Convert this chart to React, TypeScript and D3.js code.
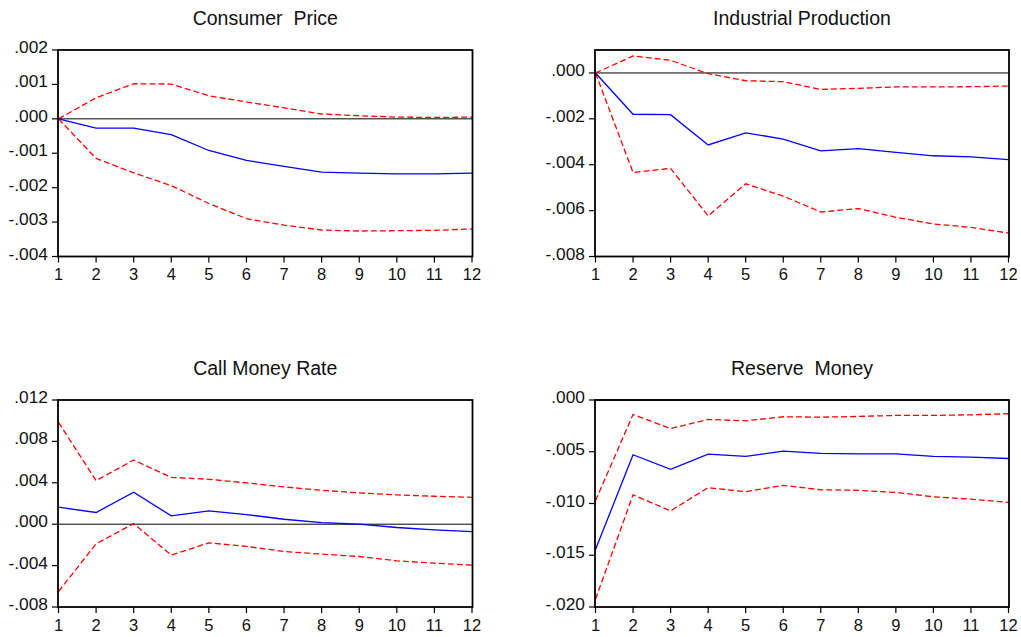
import React from "react";
import * as d3 from "d3";

// Impulse responses over a 12-period horizon with ±2 S.E. bands
const periods = [1, 2, 3, 4, 5, 6, 7, 8, 9, 10, 11, 12];

const cpiResponse = [0, -0.00027, -0.00027, -0.00046, -0.00092, -0.00121, -0.00138, -0.00155, -0.00158, -0.0016, -0.0016, -0.00158];
const cpiUpper = [0, 0.00061, 0.00102, 0.00101, 0.00067, 0.00049, 0.00032, 0.00014, 0.00009, 0.00005, 0.00004, 0.00005];
const cpiLower = [0, -0.00115, -0.00157, -0.00194, -0.00246, -0.0029, -0.00309, -0.00323, -0.00326, -0.00325, -0.00324, -0.0032];
const cpiTicks = [0.002, 0.001, 0.0, -0.001, -0.002, -0.003, -0.004];
const cpiTickLabels = [".002", ".001", ".000", "-.001", "-.002", "-.003", "-.004"];

const ipResponse = [0, -0.0018, -0.00182, -0.00314, -0.00261, -0.00288, -0.0034, -0.0033, -0.00346, -0.00361, -0.00366, -0.00378];
const ipUpper = [0, 0.00074, 0.00055, -0.00003, -0.00034, -0.00038, -0.00072, -0.00067, -0.00061, -0.00061, -0.0006, -0.00057];
const ipLower = [0, -0.00434, -0.00416, -0.00623, -0.00483, -0.00537, -0.00606, -0.00591, -0.00629, -0.00658, -0.00673, -0.00698];
const ipTicks = [0.0, -0.002, -0.004, -0.006, -0.008];
const ipTickLabels = [".000", "-.002", "-.004", "-.006", "-.008"];

const cmrResponse = [0.00164, 0.00113, 0.00309, 0.0008, 0.00129, 0.00093, 0.00048, 0.00016, 0.0, -0.00032, -0.00055, -0.00071];
const cmrUpper = [0.00984, 0.00421, 0.0062, 0.00453, 0.00434, 0.00399, 0.0036, 0.00328, 0.00302, 0.00283, 0.0027, 0.0026];
const cmrLower = [-0.0065, -0.0019, 0.00006, -0.00299, -0.0018, -0.00215, -0.00264, -0.00289, -0.00312, -0.00354, -0.00376, -0.00395];
const cmrTicks = [0.012, 0.008, 0.004, 0.0, -0.004, -0.008];
const cmrTickLabels = [".012", ".008", ".004", ".000", "-.004", "-.008"];

const rmResponse = [-0.01445, -0.00529, -0.00669, -0.00523, -0.00545, -0.00494, -0.00516, -0.0052, -0.0052, -0.00545, -0.00552, -0.00565];
const rmUpper = [-0.00974, -0.0014, -0.00276, -0.00188, -0.00201, -0.00162, -0.00166, -0.00159, -0.00149, -0.00149, -0.00143, -0.00133];
const rmLower = [-0.01925, -0.00916, -0.01071, -0.00847, -0.00886, -0.00825, -0.00867, -0.00873, -0.00893, -0.00935, -0.00958, -0.0099];
const rmTicks = [0.0, -0.005, -0.01, -0.015, -0.02];
const rmTickLabels = [".000", "-.005", "-.010", "-.015", "-.020"];

const titles = ["Consumer  Price", "Industrial Production", "Call Money Rate", "Reserve  Money"];

type PanelSpec = {
  title: string;
  response: number[];
  upper: number[];
  lower: number[];
  domain: [number, number];
  ticks: number[];
  tickLabels: string[];
  box: { left: number; top: number; right: number; bottom: number };
};

const panels: PanelSpec[] = [
  { title: titles[0], response: cpiResponse, upper: cpiUpper, lower: cpiLower, domain: [-0.004, 0.002], ticks: cpiTicks, tickLabels: cpiTickLabels, box: { left: 58, top: 50, right: 472.5, bottom: 256.5 } },
  { title: titles[1], response: ipResponse, upper: ipUpper, lower: ipLower, domain: [-0.008, 0.001], ticks: ipTicks, tickLabels: ipTickLabels, box: { left: 595, top: 50, right: 1009, bottom: 256.5 } },
  { title: titles[2], response: cmrResponse, upper: cmrUpper, lower: cmrLower, domain: [-0.008, 0.012], ticks: cmrTicks, tickLabels: cmrTickLabels, box: { left: 58, top: 400, right: 472.5, bottom: 607 } },
  { title: titles[3], response: rmResponse, upper: rmUpper, lower: rmLower, domain: [-0.02, 0.0], ticks: rmTicks, tickLabels: rmTickLabels, box: { left: 595, top: 400, right: 1009, bottom: 607 } },
];

const FONT = "'Liberation Sans', Arial, sans-serif";

function Panel({ p }: { p: PanelSpec }) {
  const { left, top, right, bottom } = p.box;
  const x = d3.scaleLinear().domain([1, 12]).range([left + 0.5, right - 0.5]);
  const y = d3.scaleLinear().domain(p.domain).range([bottom, top]);
  const line = d3
    .line<number>()
    .x((_, i) => x(periods[i]))
    .y((d) => y(d));

  return (
    <g>
      <text
        x={(left + right) / 2}
        y={top - 25}
        textAnchor="middle"
        fontFamily={FONT}
        fontSize={19.5}
        fill="#111"
        style={{ whiteSpace: "pre" }}
      >
        {p.title}
      </text>

      {/* y axis ticks and labels */}
      {p.ticks.map((t, i) => (
        <g key={"y" + i}>
          <line x1={left - 6} x2={left} y1={y(t)} y2={y(t)} stroke="#000" strokeWidth={1.2} />
          <text
            transform={`translate(${left - 10},${y(t) + 3}) scale(1.05,1)`}
            textAnchor="end"
            fontFamily={FONT}
            fontSize={16.5}
            fill="#111"
          >
            {p.tickLabels[i]}
          </text>
        </g>
      ))}

      {/* x axis ticks and labels */}
      {periods.map((t) => (
        <g key={"x" + t}>
          <line x1={x(t)} x2={x(t)} y1={bottom} y2={bottom + 6} stroke="#000" strokeWidth={1.2} />
          <text x={x(t)} y={bottom + 23.5} textAnchor="middle" fontFamily={FONT} fontSize={16.5} fill="#111">
            {t}
          </text>
        </g>
      ))}

      {/* zero reference line */}
      <line x1={left} x2={right} y1={y(0)} y2={y(0)} stroke="#000" strokeWidth={1} />

      <path d={line(p.upper) ?? ""} fill="none" stroke="#ff0000" strokeWidth={1.3} strokeDasharray="6,3" />
      <path d={line(p.lower) ?? ""} fill="none" stroke="#ff0000" strokeWidth={1.3} strokeDasharray="6,3" />
      <path d={line(p.response) ?? ""} fill="none" stroke="#0000ff" strokeWidth={1.3} />

      <rect x={left} y={top} width={right - left} height={bottom - top} fill="none" stroke="#000" strokeWidth={1.8} />
    </g>
  );
}

export default function App() {
  return (
    <svg
      width={1021}
      height={637}
      style={{ position: "absolute", left: 0, top: 0, background: "#fff" }}
    >
      <rect width={1021} height={637} fill="#fff" />
      {panels.map((p, i) => (
        <Panel key={i} p={p} />
      ))}
    </svg>
  );
}
